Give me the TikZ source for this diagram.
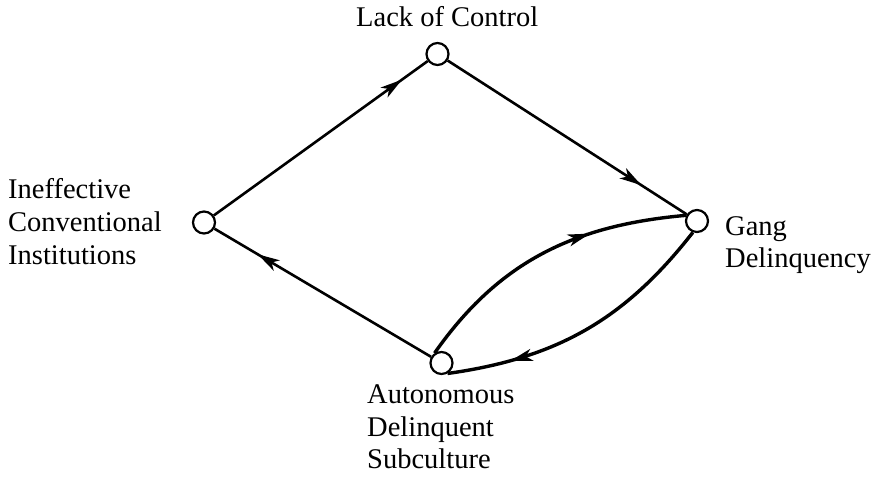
\documentclass[tikz,border=0pt]{standalone}
\usepackage{fontspec}
\setmainfont{Liberation Serif}
\usetikzlibrary{arrows.meta,decorations.markings}
\begin{document}
\begin{tikzpicture}[x=1pt,y=1pt,
  >={Stealth[length=22pt,width=12pt,inset=6pt]},
  state/.style={circle,draw,line width=2.2pt,minimum size=22pt,inner sep=0pt},
  link/.style={line width=2.6pt},
  loopline/.style={line width=3.4pt},
  midarrow/.style={postaction={decorate},
    decoration={markings,mark=at position #1 with {\arrow{>}}}},
  lbl/.style={anchor=base west,inner sep=0pt,font=\fontsize{28.5}{33}\selectfont}]
\useasboundingbox (0,0) rectangle (878,-477);

% states
\node[state] (lc) at (437.5,-54) {};
\node[state] (ici) at (204,-222.5) {};
\node[state] (gd) at (697,-221) {};
\node[state] (ads) at (441.5,-363) {};

% labels
\node[lbl] (lcT) at (356,-26) {Lack of Control};
\node[lbl] (ici1) at (8,-198) {Ineffective};
\node[lbl] (ici2) at (8,-231) {Conventional};
\node[lbl] (ici3) at (8,-264) {Institutions};
\node[lbl] (gd1) at (725,-235) {Gang};
\node[lbl] (gd2) at (725,-267) {Delinquency};
\node[lbl] (ads1) at (367,-403) {Autonomous};
\node[lbl] (ads2) at (367,-436) {Delinquent};
\node[lbl] (ads3) at (367,-468) {Subculture};

% straight connectors
\draw[link,midarrow=0.88] (ici) -- (lc);
\draw[link,midarrow=0.81] (lc) -- (gd);
\draw[link,midarrow=0.80] (ads) -- (ici);

% reciprocal curved connectors
\draw[loopline,midarrow=0.67] (ads.125) to[out=55,in=185] (gd.152);
\draw[loopline,midarrow=0.78] (gd.250) to[out=232,in=8] (ads.300);
\end{tikzpicture}
\end{document}
